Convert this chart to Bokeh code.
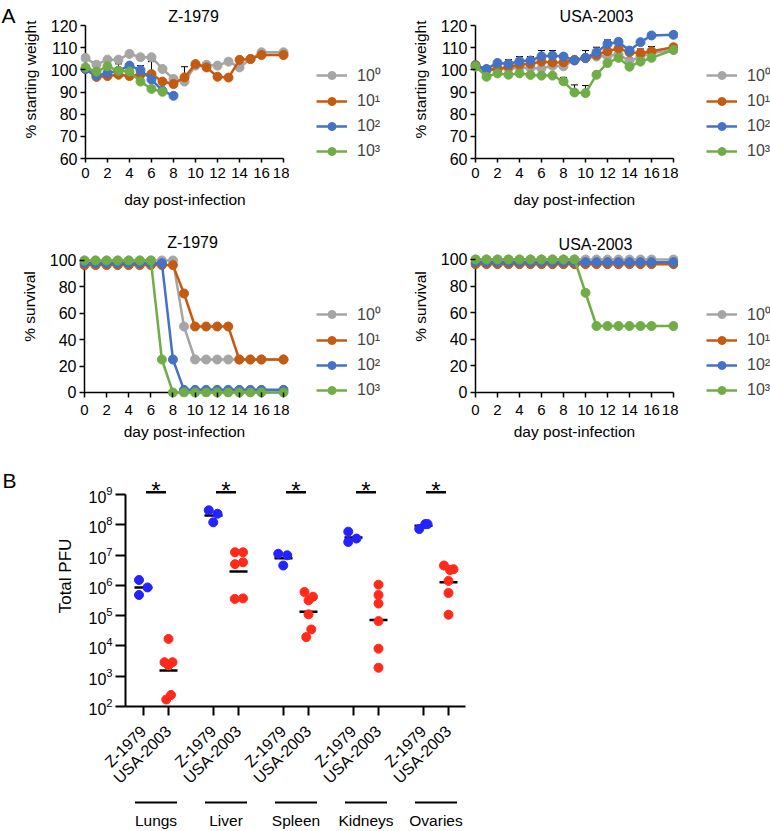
import numpy as np
from math import pi
from bokeh.plotting import figure
from bokeh.models import Range1d, FixedTicker, Legend, LegendItem, Label
from bokeh.layouts import column, row
from bokeh.embed import file_html
from bokeh.resources import INLINE
from bokeh.core.properties import value

FONT = "Liberation Sans"

# ---------------- data: panel A ----------------
days_all = [0, 1, 2, 3, 4, 5, 6, 7, 8, 9, 10, 11, 12, 13, 14, 15, 16, 18]
days_z_1e2 = [0, 1, 2, 3, 4, 5, 6, 7, 8]
days_z_1e3 = [0, 1, 2, 3, 4, 5, 6, 7]
day_ticks = [0, 2, 4, 6, 8, 10, 12, 14, 16, 18]
dose_labels = ["10⁰", "10¹", "10²", "10³"]
dose_colors = ["#a5a5a5", "#c55a11", "#4472c4", "#70ad47"]

# % starting weight, Z-1979
z_weight_1e0 = [105.4, 102.3, 104.6, 104.6, 107.2, 105.7, 105.7, 100.4, 95.9, 94.7, 101.9, 102.3, 101.9, 103.7, 101.1, 104.9, 107.9, 107.9]
z_weight_1e1 = [100.4, 96.8, 97.2, 97.8, 97.2, 97.8, 98.1, 94.7, 93.6, 96.6, 102.6, 101.1, 96.9, 96.5, 104.5, 104.9, 106.7, 106.7]
z_weight_1e2 = [100.4, 97.4, 98.6, 99.6, 101.9, 99.9, 95.6, 90.6, 88.3]
z_weight_1e3 = [101.1, 99.2, 101.6, 99.6, 99.2, 94.7, 91.4, 90.1]
z_err_1e0 = [0, 0, 0, 0, 0, 1.0, 0, 0, 0, 6.7, 0, 0, 0, 0, 0, 0, 0, 0]
z_err_1e1 = [0, 0, 0, 4.9, 0, 0, 5.6, 0, 3.3, 0, 0, 0, 0, 0, 0, 0, 0, 0]
z_err_1e2 = [0, 0, 0, 0, 0, 2.0, 0, 0, 0]
z_err_1e3 = [0, 0, 0, 0, 0, 0, 0, 0]

# % starting weight, USA-2003
u_weight_1e0 = [101.5, 99.5, 100.5, 100.5, 101.0, 100.8, 100.6, 101.8, 101.6, 104.5, 105.2, 106.0, 106.2, 107.0, 104.0, 106.0, 107.5, 109.0]
u_weight_1e1 = [102.2, 100.1, 100.4, 101.4, 102.3, 102.7, 103.7, 103.3, 103.4, 104.5, 105.4, 106.7, 108.4, 109.7, 107.9, 107.5, 108.4, 110.2]
u_weight_1e2 = [101.9, 100.4, 103.1, 102.7, 103.9, 104.2, 106.1, 106.4, 106.0, 104.2, 105.4, 107.9, 111.7, 112.6, 108.7, 112.5, 115.5, 115.8]
u_weight_1e3 = [101.6, 96.9, 98.4, 97.8, 98.4, 97.7, 97.4, 97.4, 94.8, 89.8, 89.5, 97.8, 103.1, 105.4, 101.4, 103.7, 105.4, 109.0]
u_err_1e0 = [0, 0, 0, 0, 0, 0, 0, 0, 0, 0, 0, 0, 0, 0, 1.4, 0, 0, 0]
u_err_1e1 = [0, 0, 0, 0, 0, 0, 0, 0, 0, 0, 0, 0, 0, 0, 0, 1.9, 2.1, 0]
u_err_1e2 = [0, 0, 0, 1.9, 2.1, 1.8, 2.6, 2.3, 0, 0, 3.3, 2.3, 1.8, 1.4, 0, 0, 0, 0]
u_err_1e3 = [0, 0, 0, 0, 0, 0, 0, 0, 1.8, 3.4, 3.4, 0, 0, 0, 0, 0, 0, 0]

# % survival
z_surv_1e0 = [100, 100, 100, 100, 100, 100, 100, 100, 100, 50, 25, 25, 25, 25, 25, 25, 25, 25]
z_surv_1e1 = [96.5, 96.5, 96.5, 96.5, 96.5, 96.5, 96.5, 96.5, 96.5, 75, 50, 50, 50, 50, 25, 25, 25, 25]
z_surv_1e2 = [98, 98, 98, 98, 98, 98, 98, 98, 25, 2, 2, 2, 2, 2, 2, 2, 2, 2]
z_surv_1e3 = [100, 100, 100, 100, 100, 100, 100, 25, 0, 0, 0, 0, 0, 0, 0, 0, 0, 0]
u_surv_1e0 = [100, 100, 100, 100, 100, 100, 100, 100, 100, 100, 100, 100, 100, 100, 100, 100, 100, 100]
u_surv_1e1 = [96.5, 96.5, 96.5, 96.5, 96.5, 96.5, 96.5, 96.5, 96.5, 96.5, 96.5, 96.5, 96.5, 96.5, 96.5, 96.5, 96.5, 96.5]
u_surv_1e2 = [98, 98, 98, 98, 98, 98, 98, 98, 98, 98, 98, 98, 98, 98, 98, 98, 98, 98]
u_surv_1e3 = [100, 100, 100, 100, 100, 100, 100, 100, 100, 100, 75, 50, 50, 50, 50, 50, 50, 50]

wt_ticks = [60, 70, 80, 90, 100, 110, 120]
sv_ticks = [0, 20, 40, 60, 80, 100]

# ---------------- data: panel B ----------------
organs = ["Lungs", "Liver", "Spleen", "Kidneys", "Ovaries"]
strains = ["Z-1979", "USA-2003"]
z1979_pfu = [
    [1.5e6, 8.5e5, 4.8e5],
    [3.0e8, 2.3e8, 1.2e8],
    [1.1e7, 9.8e6, 4.5e6],
    [5.9e7, 3.5e7, 2.7e7],
    [7.2e7, 1.05e8, 1.05e8],
]
usa2003_pfu = [
    [1.7e4, 2.9e3, 2.9e3, 2.3e3, 1.7e2, 2.4e2],
    [1.23e7, 1.23e7, 5.0e6, 5.75e6, 3.55e5, 3.7e5],
    [6.0e5, 4.2e5, 3.2e5, 1.1e5, 3.5e4, 1.95e4],
    [1.05e6, 4.8e5, 2.5e5, 6.6e4, 8.1e3, 1.9e3],
    [4.5e6, 3.2e6, 3.4e6, 1.4e6, 5.6e5, 1.07e5],
]
significance = ["*", "*", "*", "*", "*"]
pfu_ticks = [1e2, 1e3, 1e4, 1e5, 1e6, 1e7, 1e8, 1e9]

# horizontal scatter jitter of the dots (x units of 5 px)
z1979_jitter = [
    [-0.9, 0.8, -0.9], [-0.95, 0.8, -0.05], [-1.05, 0.75, -0.05],
    [-1.05, 0.6, -1.05], [-0.85, 0.35, 0.8],
]
usa2003_jitter = [
    [0, -0.8, 0.8, 0, -0.45, 0.5], [-0.7, 0.9, -0.7, 0.9, -0.75, 0.9],
    [-0.8, 0.9, 0, 0, 0.55, -0.45], [0, 0, 0, 0, 0, 0], [-0.9, 0.3, 1.0, 0, 0, 0],
]

BLACK = "#000000"
Z_BLUE = "#2323ff"
USA_RED = "#ff2a1a"


def bare(width, height, xr, yr, bl=0, bb=0):
    p = figure(width=width, height=height, x_range=xr, y_range=yr, output_backend="svg",
               toolbar_location=None, x_axis_location=None, y_axis_location=None,
               min_border_left=bl, min_border_right=0, min_border_top=0, min_border_bottom=bb)
    p.outline_line_color = None
    p.grid.visible = False
    p.background_fill_color = None
    p.border_fill_color = None
    return p


def style_axis(ax, tick_size, label_size, lw):
    ax.axis_line_width = lw
    ax.axis_line_color = BLACK
    ax.major_tick_line_width = lw
    ax.major_tick_line_color = BLACK
    ax.major_tick_in = 0
    ax.minor_tick_line_color = None
    ax.major_label_text_font = FONT
    ax.major_label_text_font_size = tick_size
    ax.major_label_text_color = BLACK
    ax.axis_label_text_font = FONT
    ax.axis_label_text_font_size = label_size
    ax.axis_label_text_font_style = "normal"
    ax.axis_label_text_color = BLACK


def line_panel(width, height, bl, bb, xr, yr, yticks, ylabel, title, title_xy, series, x_at_zero):
    p = figure(width=width, height=height, x_range=Range1d(*xr), y_range=Range1d(*yr),
               output_backend="svg", toolbar_location=None,
               min_border_left=bl, min_border_right=0, min_border_top=0, min_border_bottom=bb)
    p.outline_line_color = None
    p.grid.visible = False
    p.background_fill_color = None
    p.border_fill_color = None
    style_axis(p.xaxis[0], "15px", "15.5px", 1.5)
    style_axis(p.yaxis[0], "16px", "15.5px", 1.5)
    p.xaxis.ticker = FixedTicker(ticks=day_ticks)
    p.yaxis.ticker = FixedTicker(ticks=yticks)
    p.xaxis.bounds = (day_ticks[0], day_ticks[-1])
    p.yaxis.bounds = (yticks[0], yticks[-1])
    p.xaxis.axis_label = "day post-infection"
    p.yaxis.axis_label = ylabel
    p.yaxis.axis_label_standoff = 9
    # y axis line drawn at day 0, ticks reach it from the frame edge
    p.yaxis.axis_line_color = None
    p.yaxis.major_tick_out = 0
    p.yaxis.major_tick_in = 5
    p.yaxis.major_label_standoff = 3
    p.segment(x0=[day_ticks[0]], y0=[yticks[0]], x1=[day_ticks[0]], y1=[yticks[-1]],
              line_color=BLACK, line_width=1.5)
    if x_at_zero:
        p.xaxis.axis_line_color = None
        p.xaxis.major_tick_out = 0
        p.xaxis.major_tick_in = 5
        p.xaxis.major_label_standoff = 7
        p.xaxis.axis_label_standoff = 5
        p.segment(x0=[day_ticks[0]], y0=[yticks[0]], x1=[day_ticks[-1]], y1=[yticks[0]],
                  line_color=BLACK, line_width=1.5)
    else:
        p.xaxis.major_tick_out = 4
        p.xaxis.major_label_standoff = 5
        p.xaxis.axis_label_standoff = 10

    for s in series:
        if len(s) > 2:
            d, v, e = s
            idx = [k for k in range(len(d)) if e[k] > 0]
            ex = [d[k] for k in idx]
            y0 = [v[k] for k in idx]
            y1 = [v[k] + e[k] for k in idx]
            p.segment(x0=ex, y0=y0, x1=ex, y1=y1, line_color=BLACK, line_width=1)
            p.scatter(x=ex, y=y1, marker="dash", size=7, line_color=BLACK, line_width=1)
    for i, s in enumerate(series):
        d, v = s[0], s[1]
        p.line(d, v, line_color=dose_colors[i], line_width=2.5)
        p.scatter(d, v, size=9, fill_color=dose_colors[i], line_color=dose_colors[i])

    p.add_layout(Label(x=title_xy[0], y=title_xy[1], x_units="screen", y_units="screen",
                       text=title, text_font=FONT, text_font_size="16px", text_align="center",
                       text_baseline="alphabetic", text_color=BLACK))
    return p


def legend_strip(width, height, bl, legend_y):
    # the strip's frame bottom is aligned with the neighbouring plot's frame
    q = bare(width, height, Range1d(0, 1), Range1d(0, 1), bl=bl)
    items = []
    for i in range(len(dose_labels)):
        # swatch renderers, their single point lies outside the visible range
        lr = q.line(x=[-5, -4], y=[-5, -4], line_color=dose_colors[i], line_width=2.5)
        sr = q.scatter(x=[-5], y=[-5], size=9, fill_color=dose_colors[i], line_color=dose_colors[i])
        items.append(LegendItem(label=dose_labels[i], renderers=[lr, sr]))
    leg = Legend(items=items, location=(0, legend_y), orientation="vertical",
                 glyph_width=31, glyph_height=20, label_height=20, label_standoff=10, spacing=5,
                 padding=0, margin=0, border_line_color=None, background_fill_alpha=0,
                 label_text_font=FONT, label_text_font_size="16px")
    q.add_layout(leg)
    return q


# panel letter strip
pA = bare(18, 215, Range1d(0, 18), Range1d(0, 215))
pA.text(x=[1], y=[195], text=["A"], text_font=value(FONT), text_font_size="21px",
        text_align="left", text_baseline="alphabetic", text_color=BLACK)

# frame geometry: day 0 sits 5 px inside the frame's left edge
p1 = line_panel(271, 215, 61, 57, (-0.452, 18.542), (60, 131.28), wt_ticks, "% starting weight",
                "Z-1979", (113, 142.3),
                [(days_all, z_weight_1e0, z_err_1e0), (days_all, z_weight_1e1, z_err_1e1),
                 (days_z_1e2, z_weight_1e2, z_err_1e2), (days_z_1e3, z_weight_1e3, z_err_1e3)], False)
pL1 = legend_strip(101, 215, 27, -3)
p2 = line_panel(288, 215, 80, 57, (-0.4545, 18.4545), (60, 131.28), wt_ticks, "% starting weight",
                "USA-2003", (126, 142.3),
                [(days_all, u_weight_1e0, u_err_1e0), (days_all, u_weight_1e1, u_err_1e1),
                 (days_all, u_weight_1e2, u_err_1e2), (days_all, u_weight_1e3, u_err_1e3)], False)
pL2 = legend_strip(92, 215, 28, -3)
p3 = line_panel(289, 230, 79, 48, (-0.452, 18.542), (-3.788, 134.09), sv_ticks, "% survival",
                "Z-1979", (113, 154.7),
                [(days_all, z_surv_1e0), (days_all, z_surv_1e1), (days_all, z_surv_1e2), (days_all, z_surv_1e3)], True)
pL3 = legend_strip(101, 230, 27, -3)
p4 = line_panel(288, 230, 80, 48, (-0.4545, 18.4545), (-3.76, 133.08), sv_ticks, "% survival",
                "USA-2003", (125, 153),
                [(days_all, u_surv_1e0), (days_all, u_surv_1e1), (days_all, u_surv_1e2), (days_all, u_surv_1e3)], True)
pL4 = legend_strip(92, 230, 28, -3)

# ---------------- panel B ----------------
GROUP_STEP = 14
PAIR_STEP = 5
xr = Range1d(-3.6, 64.4)
p5 = figure(width=452, height=350, x_range=xr, y_range=Range1d(1e2, 10 ** 10.615), y_axis_type="log",
            output_backend="svg", toolbar_location=None,
            min_border_left=107, min_border_right=5, min_border_top=0, min_border_bottom=71)
p5.outline_line_color = None
p5.grid.visible = False
p5.background_fill_color = None
p5.border_fill_color = None
style_axis(p5.xaxis[0], "16px", "17px", 2)
style_axis(p5.yaxis[0], "16px", "17px", 2)
p5.yaxis.ticker = FixedTicker(ticks=pfu_ticks)
p5.yaxis.bounds = (pfu_ticks[0], pfu_ticks[-1])
p5.yaxis.major_tick_out = 10
p5.yaxis.major_label_standoff = 3
p5.yaxis.axis_label = "Total PFU"
p5.yaxis.axis_label_standoff = 10

tick_pos, tick_lab = [], []
for gi in range(len(organs)):
    for si, sname in enumerate(strains):
        tick_pos.append(gi * GROUP_STEP + si * PAIR_STEP)
        tick_lab.append(sname)
p5.xaxis.ticker = FixedTicker(ticks=tick_pos)
p5.xaxis.major_label_overrides = {t: l for t, l in zip(tick_pos, tick_lab)}
p5.xaxis.major_label_orientation = pi / 4
p5.xaxis.major_tick_out = 9
p5.xaxis.major_label_standoff = 13

for gi in range(len(organs)):
    for si, (vals, jit, col) in enumerate([(z1979_pfu[gi], z1979_jitter[gi], Z_BLUE),
                                           (usa2003_pfu[gi], usa2003_jitter[gi], USA_RED)]):
        cx = gi * GROUP_STEP + si * PAIR_STEP
        gm = 10 ** np.mean(np.log10(vals))
        p5.segment(x0=[cx - 1.8], y0=[gm], x1=[cx + 1.8], y1=[gm], line_color=BLACK, line_width=2.5)
        p5.scatter(x=[cx + j for j in jit], y=vals, size=9, fill_color=col, line_color=col)
    mid = gi * GROUP_STEP + PAIR_STEP / 2
    p5.segment(x0=[mid - 2], y0=[10 ** 9.07], x1=[mid + 2], y1=[10 ** 9.07], line_color=BLACK, line_width=2.5)
    p5.text(x=[mid], y=[10 ** 9.13], text=[significance[gi]], text_font=value(FONT), text_font_size="24px",
            text_align="center", text_baseline="alphabetic", text_color=BLACK)

pB = bare(18, 350, Range1d(0, 18), Range1d(0, 350))
pB.text(x=[2], y=[303], text=["B"], text_font=value(FONT), text_font_size="21px",
        text_align="left", text_baseline="alphabetic", text_color=BLACK)

# group labels under panel B
p6 = bare(470, 36, xr, Range1d(0, 36), bl=125)
p6.min_border_right = 5
gmid = [gi * GROUP_STEP + PAIR_STEP / 2 for gi in range(len(organs))]
p6.segment(x0=[m - 4.2 for m in gmid], y0=[29] * len(gmid), x1=[m + 4.2 for m in gmid], y1=[29] * len(gmid),
           line_color=BLACK, line_width=2)
p6.text(x=gmid, y=[11] * len(gmid), text=organs, text_font=value(FONT), text_font_size="15.5px",
        text_align="center", text_baseline="middle", text_color=BLACK)

layout = column(row(pA, p1, pL1, p2, pL2), row(p3, pL3, p4, pL4), row(pB, p5), p6)
open("out.html", "w").write(file_html(layout, INLINE))
